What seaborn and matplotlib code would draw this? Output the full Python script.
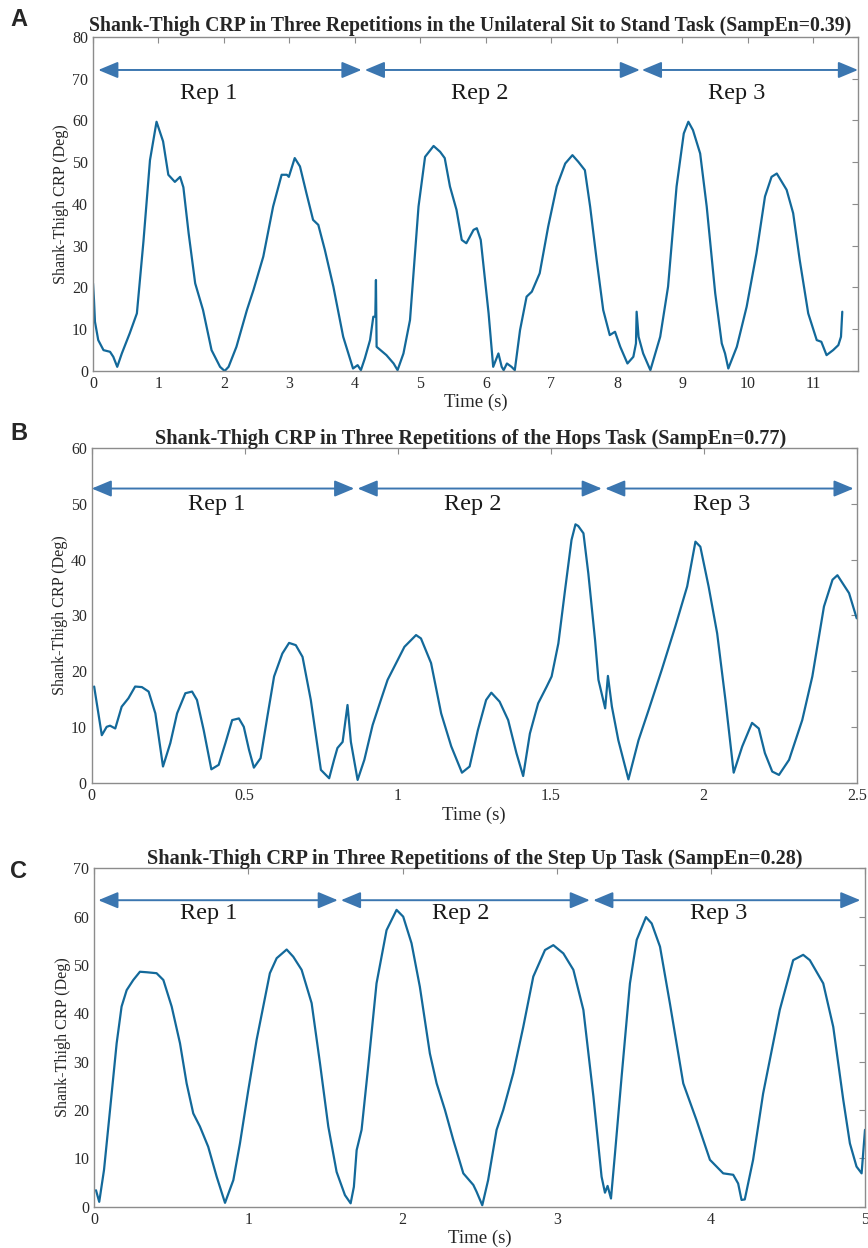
import numpy as np
import pandas as pd
import matplotlib
matplotlib.use("Agg")
import matplotlib.pyplot as plt
from matplotlib.ticker import FuncFormatter
import seaborn as sns

# Panel A: unilateral sit to stand
time_a = [0.0, 0.015, 0.03, 0.08, 0.16, 0.26, 0.31, 0.37, 0.44, 0.56, 0.67, 0.77, 0.87, 0.97,
          1.07, 1.15, 1.25, 1.33, 1.38, 1.46, 1.56, 1.68, 1.81, 1.94, 2.01, 2.07, 2.19, 2.35,
          2.45, 2.6, 2.75, 2.88, 2.96, 2.99, 3.08, 3.16, 3.26, 3.36, 3.44, 3.54, 3.67, 3.82,
          3.97, 4.04, 4.09, 4.15, 4.23, 4.28, 4.31, 4.32, 4.33, 4.48, 4.59, 4.65, 4.74, 4.84,
          4.97, 5.07, 5.2, 5.3, 5.37, 5.45, 5.55, 5.63, 5.7, 5.81, 5.86, 5.92, 6.04, 6.11,
          6.19, 6.24, 6.27, 6.32, 6.39, 6.44, 6.52, 6.62, 6.7, 6.82, 6.95, 7.08, 7.21, 7.32,
          7.41, 7.51, 7.59, 7.69, 7.79, 7.89, 7.97, 8.05, 8.16, 8.25, 8.29, 8.3, 8.33, 8.4,
          8.51, 8.66, 8.78, 8.91, 9.02, 9.09, 9.16, 9.27, 9.37, 9.5, 9.6, 9.65, 9.7, 9.83,
          9.98, 10.13, 10.26, 10.36, 10.44, 10.59, 10.69, 10.79, 10.92, 11.05, 11.12, 11.2,
          11.3, 11.38, 11.42, 11.44]
crp_a = [21.0, 17.0, 11.8, 7.4, 5.0, 4.6, 3.4, 1.0, 4.2, 9.0, 13.8, 31.0, 50.5, 59.7,
         55.0, 47.0, 45.3, 46.5, 44.0, 33.0, 21.0, 14.6, 5.0, 1.0, 0.0, 1.0, 5.8, 14.6,
         19.4, 27.4, 39.4, 47.0, 47.0, 46.5, 51.0, 49.0, 42.5, 36.2, 35.0, 29.0, 20.2, 8.2,
         0.6, 1.4, 0.2, 3.0, 7.4, 13.0, 13.0, 21.8, 5.8, 3.8, 1.8, 0.2, 4.2, 12.2,
         39.4, 51.3, 53.9, 52.5, 51.0, 44.2, 38.6, 31.4, 30.6, 33.8, 34.2, 31.4, 13.8, 1.0,
         4.2, 1.0, 0.2, 1.8, 1.0, 0.2, 9.8, 17.8, 19.0, 23.4, 34.6, 44.2, 49.7, 51.7,
         50.1, 48.1, 39.4, 26.6, 14.6, 8.6, 9.4, 5.8, 1.8, 3.4, 6.6, 14.2, 8.2, 4.2,
         0.2, 8.2, 20.2, 44.2, 56.9, 59.7, 57.7, 52.1, 39.4, 18.6, 6.6, 4.2, 0.6, 5.8,
         15.4, 28.2, 41.8, 46.5, 47.3, 43.4, 37.8, 26.6, 13.8, 7.4, 7.0, 3.8,
         5.0, 6.2, 8.2, 14.2]

# Panel B: hops
time_b = [0.008, 0.033, 0.049, 0.06, 0.077, 0.098, 0.12, 0.142, 0.164, 0.186, 0.208, 0.233,
          0.257, 0.279, 0.306, 0.328, 0.344, 0.366, 0.391, 0.415, 0.437, 0.459, 0.481, 0.497,
          0.514, 0.53, 0.552, 0.574, 0.596, 0.623, 0.645, 0.667, 0.689, 0.716, 0.749, 0.776,
          0.792, 0.803, 0.82, 0.836, 0.847, 0.869, 0.891, 0.918, 0.945, 0.967, 0.995, 1.022,
          1.06, 1.076, 1.109, 1.142, 1.175, 1.21, 1.235, 1.262, 1.289, 1.306, 1.333, 1.361,
          1.388, 1.41, 1.432, 1.459, 1.487, 1.503, 1.525, 1.547, 1.568, 1.581, 1.59, 1.607,
          1.623, 1.645, 1.656, 1.678, 1.687, 1.7, 1.721, 1.754, 1.787, 1.82, 1.863, 1.907,
          1.946, 1.973, 1.989, 2.016, 2.044, 2.071, 2.098, 2.126, 2.158, 2.18, 2.2, 2.224,
          2.246, 2.279, 2.322, 2.355, 2.393, 2.421, 2.437, 2.475, 2.5]
crp_b = [17.3, 8.6, 10.1, 10.3, 9.8, 13.7, 15.2, 17.3, 17.2, 16.4, 12.5, 3.0,
         7.2, 12.5, 16.1, 16.4, 14.9, 9.5, 2.5, 3.3, 7.2, 11.3, 11.6, 10.1,
         6.0, 2.8, 4.5, 11.9, 19.1, 23.2, 25.1, 24.7, 22.6, 14.9, 2.4, 0.9,
         4.2, 6.3, 7.4, 14.0, 7.4, 0.6, 4.2, 10.4, 14.9, 18.5, 21.5, 24.4,
         26.5, 25.9, 21.5, 12.5, 6.6, 1.9, 3.0, 9.5, 14.9, 16.2, 14.6, 11.3,
         5.4, 1.3, 8.9, 14.3, 17.3, 19.1, 25.0, 34.6, 43.5, 46.3, 46.0, 44.7,
         37.5, 25.6, 18.5, 13.4, 19.2, 13.7, 7.7, 0.7, 7.7, 13.1, 20.3, 28.0,
         35.2, 43.2, 42.3, 35.2, 26.8, 14.9, 1.9, 6.6, 10.8, 9.8, 5.4, 2.1,
         1.5, 4.2, 11.3, 19.1, 31.6, 36.4, 37.2, 34.0, 29.5]

# Panel C: step up
time_c = [0.011, 0.032, 0.063, 0.102, 0.145, 0.177, 0.21, 0.253, 0.296, 0.339, 0.404, 0.448,
          0.502, 0.556, 0.599, 0.642, 0.685, 0.739, 0.794, 0.848, 0.902, 0.945, 0.999, 1.053,
          1.096, 1.139, 1.183, 1.248, 1.291, 1.345, 1.41, 1.464, 1.518, 1.572, 1.626, 1.663,
          1.684, 1.702, 1.734, 1.777, 1.831, 1.896, 1.961, 2.004, 2.058, 2.112, 2.177, 2.221,
          2.275, 2.329, 2.394, 2.459, 2.48, 2.517, 2.555, 2.61, 2.653, 2.718, 2.783, 2.848,
          2.924, 2.978, 3.043, 3.108, 3.173, 3.238, 3.291, 3.313, 3.33, 3.352, 3.378, 3.421,
          3.475, 3.519, 3.579, 3.616, 3.67, 3.734, 3.821, 3.907, 3.994, 4.08, 4.145, 4.177,
          4.199, 4.22, 4.274, 4.339, 4.447, 4.534, 4.599, 4.642, 4.729, 4.794, 4.859, 4.902,
          4.945, 4.978, 5.0]
crp_c = [3.4, 1.0, 7.6, 20.0, 33.8, 41.4, 44.8, 46.9, 48.6, 48.5, 48.3, 46.9,
         41.4, 33.8, 25.5, 19.3, 16.6, 12.4, 6.2, 0.8, 5.5, 13.1, 24.1, 34.5,
         41.4, 48.3, 51.4, 53.2, 51.7, 49.0, 42.1, 29.7, 16.6, 7.2, 2.4, 0.7,
         4.1, 11.7, 15.9, 29.0, 46.2, 57.2, 61.4, 60.0, 54.5, 45.5, 31.7, 25.5,
         20.0, 13.8, 6.9, 4.5, 3.1, 0.3, 5.5, 15.9, 20.0, 27.6, 37.2, 47.6,
         53.1, 54.1, 52.4, 49.0, 40.7, 22.8, 6.2, 2.9, 4.3, 1.7, 11.0, 26.9,
         46.2, 55.2, 59.9, 58.6, 53.8, 42.1, 25.5, 17.9, 9.7, 6.9, 6.6, 4.8,
         1.4, 1.5, 9.7, 23.4, 40.7, 51.0, 52.1, 51.0, 46.2, 37.2, 22.1, 13.1,
         8.3, 6.9, 15.9]

titles = [
    "Shank-Thigh CRP in Three Repetitions in the Unilateral Sit to Stand Task (SampEn=0.39)",
    "Shank-Thigh CRP in Three Repetitions of the Hops Task (SampEn=0.77)",
    "Shank-Thigh CRP in Three Repetitions of the Step Up Task (SampEn=0.28)",
]
panel_letters = ["A", "B", "C"]
rep_labels = ["Rep 1", "Rep 2", "Rep 3"]

# repetition spans (start, end) in seconds, arrow height, label x / y
rep_spans_a = [(0.08, 4.10), (4.15, 8.35), (8.38, 11.68)]
rep_spans_b = [(0.0, 0.858), (0.869, 1.667), (1.678, 2.49)]
rep_spans_c = [(0.026, 1.58), (1.60, 3.215), (3.237, 4.97)]
arrow_y = [72.1, 52.7, 63.4]
rep_label_x = [[1.76, 5.9, 9.83], [0.41, 1.246, 2.06], [0.74, 2.38, 4.05]]
rep_label_y = [66.5, 49.8, 60.6]

x_limits = [11.68, 2.5, 5.0]
x_tick_steps = [1, 0.5, 1]
y_limits = [80, 60, 70]

sns.set_style("white")
plt.rcParams["font.family"] = ["Liberation Serif", "DejaVu Serif"]

fig = plt.figure(figsize=(8.68, 12.48), dpi=100)
ax_rects = [
    [93 / 868, 1 - 371 / 1248, 765 / 868, 334 / 1248],
    [91.7 / 868, 1 - 783.3 / 1248, 765 / 868, 335.6 / 1248],
    [94.3 / 868, 1 - 1206.7 / 1248, 770.7 / 868, 338.4 / 1248],
]
title_x = [0.493, 0.495, 0.493]
title_size = [14.2, 14.6, 14.6]
title_pad = [4.5, 3, 3]
letter_y = [1 - 19 / 1248, 1 - 434 / 1248, 1 - 871 / 1248]

line_color = "#13699a"
arrow_color = "#3b76b0"
frame_color = "#8c8c8c"

series = [(time_a, crp_a), (time_b, crp_b), (time_c, crp_c)]
spans = [rep_spans_a, rep_spans_b, rep_spans_c]

for i in range(3):
    ax = fig.add_axes(ax_rects[i])
    df = pd.DataFrame({"time": series[i][0], "crp": series[i][1]})
    sns.lineplot(data=df, x="time", y="crp", ax=ax, color=line_color, linewidth=1.6,
                 sort=False, estimator=None)

    ax.set_xlim(0, x_limits[i])
    ax.set_ylim(0, y_limits[i])
    ax.set_xticks(np.arange(0, x_limits[i] + 1e-6, x_tick_steps[i]))
    ax.set_yticks(np.arange(0, y_limits[i] + 1e-6, 10))
    ax.xaxis.set_major_formatter(FuncFormatter(lambda v, p: f"{v:g}"))
    ax.tick_params(direction="in", top=True, right=True, length=4, width=0.8,
                   color=frame_color, labelsize=11.5, labelcolor="#2a2a2a", pad=3.5)
    for sp in ax.spines.values():
        sp.set_color(frame_color)
        sp.set_linewidth(1.0)

    ax.set_xlabel("Time (s)", fontsize=13.5, labelpad=1.5)
    ax.set_ylabel("Shank-Thigh CRP (Deg)", fontsize=11.6, labelpad=2)
    ax.set_title(titles[i], fontsize=title_size[i], fontweight="bold", pad=title_pad[i],
                 x=title_x[i])

    for (s, e) in spans[i]:
        ax.annotate("", xy=(e, arrow_y[i]), xytext=(s, arrow_y[i]),
                    arrowprops=dict(arrowstyle="<|-|>,head_length=0.6,head_width=0.25",
                                    color=arrow_color, lw=1.4, mutation_scale=20,
                                    shrinkA=0, shrinkB=0))
    for j, lab in enumerate(rep_labels):
        ax.text(rep_label_x[i][j], rep_label_y[i], lab, fontsize=17.5, ha="center",
                va="center", color="#1a1a1a")

    fig.text(10 / 868, letter_y[i], panel_letters[i], fontsize=17, fontweight="bold",
             family=["Liberation Sans", "DejaVu Sans"], va="center", ha="left")

fig.savefig("out.png", dpi=100)
